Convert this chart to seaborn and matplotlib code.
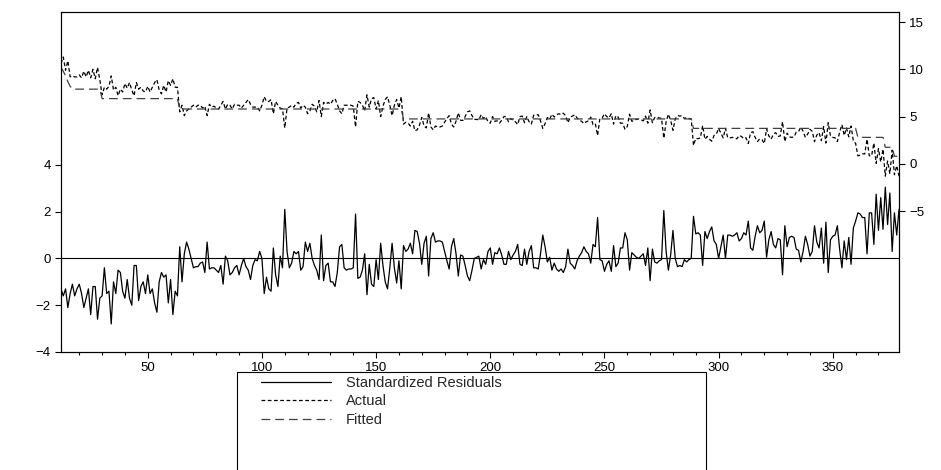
import numpy as np
import pandas as pd
import matplotlib
matplotlib.use("Agg")
import matplotlib.pyplot as plt
from matplotlib.patches import Rectangle
from matplotlib.ticker import MultipleLocator
import seaborn as sns

# Observations 12..379
obs = list(range(12, 380))

# Standardized residuals (left axis)
resid = [
    -1.3, -1.6,
    -1.3, -2.1, -1.5, -1.1, -1.6, -1.3, -1.1, -1.5, -2.1, -1.7,
    -1.3, -2.4, -1.2, -1.2, -2.6, -1.7, -1.6, -0.4, -1.5, -1.4,
    -2.8, -1.0, -1.5, -0.5, -0.6, -1.4, -1.7, -0.9, -1.7, -2.0,
    -0.3, -0.3, -1.8, -1.2, -1.0, -1.5, -0.7, -1.5, -1.3, -1.9,
    -2.3, -1.0, -0.6, -0.8, -0.7, -1.9, -0.9, -2.4, -1.4, -1.6,
    0.5, -1.0, 0.2, 0.7, 0.4, 0.0, -0.4, -0.35, -0.35, -0.2,
    -0.15, -0.6, 0.7, -0.45, -0.4, -0.4, -0.5, -0.6, -0.3, -1.1,
    0.1, -0.1, -0.7, -0.6, -0.4, -0.3, -0.7, -0.3, 0.0, -0.35,
    -0.5, -0.9, -0.3, -0.05, -0.1, 0.3, 0.0, -1.5, -0.8, -1.3,
    -1.4, 0.45, -0.7, -1.2, 0.1, -0.4, 2.1, 0.3, -0.4, -0.2,
    0.3, 0.2, 0.3, -0.5, -0.35, 0.7, 0.3, 0.65, 0.0, -0.3,
    -0.5, -0.9, 1.0, -0.95, -0.3, -0.2, -1.0, -1.0, -1.2, -0.6,
    0.5, 0.6, -0.4, -0.5, -0.45, -0.45, -0.4, 1.9, -0.85, -0.8,
    -0.5, 0.2, -1.55, -0.25, -1.1, -1.2, -0.05, -0.9, 0.65, -0.3,
    -1.0, -1.3, -0.4, 0.65, -0.4, -1.05, -0.1, -1.3, 0.55, 0.3,
    0.4, 0.65, 0.2, 1.2, 1.15, 0.65, -0.25, 0.65, 0.95, -0.75,
    0.85, 1.1, 0.7, 0.75, 0.75, 0.7, 0.3, -0.1, -0.45, 0.5,
    0.85, 0.2, -0.75, 0.15, 0.1, -0.3, -0.75, -0.95, -0.5, 0.0,
    0.05, 0.1, -0.45, -0.05, -0.25, 0.3, 0.45, -0.25, 0.25, 0.2,
    0.45, 0.15, -0.25, -0.25, 0.3, -0.05, 0.15, 0.3, 0.6, -0.25,
    -0.3, 0.4, -0.25, 0.3, 0.55, -0.4, -0.4, -0.45, 0.2, 1.0,
    0.5, -0.15, 0.05, -0.5, -0.2, -0.45, -0.55, -0.45, -0.6, -0.35,
    0.4, -0.2, -0.3, -0.45, -0.1, 0.1, 0.25, 0.5, 0.3, 0.2,
    -0.2, 0.6, 0.5, 1.75, -0.05, -0.1, -0.55, -0.25, -0.1, -0.55,
    0.55, -0.35, -0.2, 0.45, 0.45, 1.1, 0.8, -0.5, 0.25, 0.15,
    0.05, 0.0, 0.1, 0.2, -0.3, 0.45, -0.95, 0.4, -0.15, -0.2,
    -0.1, -0.05, 2.05, 0.3, -0.5, 0.15, 1.2, 0.0, -0.35, -0.3,
    -0.35, -0.05, -0.15, -0.05, 0.0, 1.8, 1.05, 1.1, 1.0, -0.3,
    1.15, 0.85, 1.15, 1.35, 0.75, 0.6, 0.0, 0.5, 1.0, 0.0,
    1.0, 1.0, 0.95, 1.0, 1.1, 0.75, 0.85, 1.1, 1.0, 1.6,
    0.45, 0.35, 0.95, 1.4, 1.1, 1.2, 1.6, 0.05, 0.8, 1.15,
    0.6, 0.45, 0.85, 0.8, -0.7, 1.4, 0.5, 0.9, 0.95, 0.9,
    0.4, 0.35, -0.15, 0.3, 0.95, 0.6, 0.1, 0.3, 1.4, 0.7,
    0.45, 1.3, -0.2, 1.55, -0.6, 0.8, 0.95, 1.0, 1.4, 0.4,
    -0.4, 0.75, -0.05, 0.9, -0.25, 1.3, 1.6, 1.95, 1.9, 1.75,
    1.75, 0.2, 1.95, 1.95, 0.6, 2.75, 1.2, 2.6, 1.25, 3.05,
    1.45, 2.8, 0.3, 1.95, 1.0, 2.1,
]

# Actual series (right axis)
actual = [
    10.6, 11.3,
    9.9, 10.9, 9.2, 9.3, 9.2, 9.2, 9.4, 9.1, 9.8, 9.2,
    9.9, 9.1, 10.0, 9.0, 10.2, 8.9, 7.3, 8.1, 7.9, 8.2,
    9.3, 7.8, 8.1, 7.2, 7.9, 7.6, 8.5, 8.0, 8.6, 7.8,
    7.2, 8.6, 7.9, 8.1, 7.7, 7.6, 8.2, 7.6, 8.1, 8.6,
    8.9, 7.8, 7.4, 8.3, 7.6, 8.8, 8.3, 9.0, 8.1, 8.1,
    5.5, 6.2, 5.1, 5.6, 5.8, 6.0, 6.2, 6.0, 6.2, 6.2,
    5.9, 6.1, 5.1, 6.3, 6.0, 6.1, 5.9, 5.8, 6.2, 6.6,
    5.8, 6.3, 6.2, 5.8, 6.3, 6.2, 6.2, 5.9, 6.2, 6.5,
    6.8, 6.3, 6.0, 6.0, 6.0, 5.6, 6.2, 7.1, 6.6, 6.6,
    6.8, 5.3, 6.6, 6.2, 5.9, 5.8, 3.8, 5.9, 6.0, 6.2,
    6.0, 6.4, 6.5, 5.9, 6.2, 6.0, 5.3, 5.6, 6.3, 6.1,
    5.5, 6.7, 5.0, 6.5, 6.3, 6.5, 6.3, 6.7, 6.9, 6.3,
    5.6, 5.3, 6.2, 6.2, 6.2, 6.2, 6.1, 3.9, 6.6, 6.5,
    6.2, 5.6, 7.3, 6.0, 6.9, 7.0, 5.8, 6.7, 5.0, 6.1,
    6.8, 7.1, 6.2, 5.1, 6.2, 6.8, 5.9, 7.1, 4.2, 4.4,
    4.3, 4.0, 4.5, 3.5, 3.6, 4.1, 4.9, 4.0, 3.8, 5.4,
    3.9, 3.6, 4.0, 3.9, 3.9, 4.0, 4.4, 4.8, 5.1, 4.2,
    3.9, 4.5, 5.4, 4.6, 4.6, 5.0, 5.5, 5.6, 5.1, 4.7,
    4.7, 4.65, 5.2, 4.8, 5.0, 4.45, 4.3, 5.0, 4.5, 4.55,
    4.3, 4.6, 5.0, 5.0, 4.45, 4.8, 4.6, 4.45, 4.15, 5.0,
    5.05, 4.35, 5.0, 4.45, 4.2, 5.15, 5.15, 5.2, 4.55, 3.75,
    4.25, 4.9, 4.7, 5.25, 4.95, 5.2, 5.3, 5.2, 5.35, 5.1,
    4.35, 4.95, 5.05, 5.2, 4.85, 4.65, 4.5, 4.25, 4.45, 4.55,
    4.95, 4.15, 4.25, 3.0, 4.8, 4.85, 5.3, 5.0, 4.85, 5.3,
    4.2, 5.1, 4.95, 4.3, 4.3, 3.65, 3.95, 5.25, 4.5, 4.6,
    4.7, 4.75, 4.65, 4.55, 5.05, 4.3, 5.7, 4.35, 4.9, 4.95,
    4.85, 4.8, 2.7, 4.45, 5.25, 4.6, 3.55, 4.75, 5.1, 5.05,
    5.1, 4.8, 4.9, 4.8, 4.75, 1.95, 2.7, 2.65, 2.75, 4.05,
    2.6, 2.9, 2.6, 2.4, 3.0, 3.15, 3.75, 3.25, 2.75, 3.75,
    2.75, 2.75, 2.8, 2.75, 2.65, 3.0, 2.9, 2.65, 2.75, 2.15,
    3.3, 3.4, 2.8, 2.35, 2.65, 2.55, 2.15, 3.7, 2.95, 2.6,
    3.15, 3.3, 2.9, 2.95, 4.45, 2.35, 3.25, 2.85, 2.8, 2.85,
    3.35, 3.4, 3.9, 3.45, 2.8, 3.15, 3.65, 3.45, 2.35, 3.05,
    3.3, 2.45, 3.95, 2.2, 4.35, 2.95, 2.8, 2.75, 2.35, 3.35,
    4.15, 3.0, 3.8, 2.85, 4.0, 2.45, 2.15, 0.85, 0.9, 1.05,
    1.05, 2.6, 0.85, 0.85, 2.2, 0.05, 1.6, 0.2, 1.55, -1.3,
    0.3, -1.05, 1.45, -1.15, -0.2, -1.3,
]

# Fitted series: step levels and the first observation of each step
fitted_start = [12, 13, 14, 15, 16, 17, 30, 64, 162, 289, 361, 373, 377]
fitted_level = [10.2, 9.8, 9.3, 8.7, 8.2, 7.9, 6.9, 5.8, 4.75, 3.75, 2.8, 1.75, 0.8]

lengths = np.diff(fitted_start + [obs[-1] + 1])
fitted = np.repeat(fitted_level, lengths)

df = pd.DataFrame({"obs": obs, "resid": resid, "actual": actual, "fitted": fitted})

sns.set_style("ticks")
plt.rcParams['font.family'] = ['Liberation Sans', 'DejaVu Sans']

W, H = 941, 470
fig = plt.figure(figsize=(W / 100, H / 100), dpi=100)
ax = fig.add_axes([61 / W, 1 - 352 / H, 838 / W, 340 / H])
ax2 = ax.twinx()

# residuals on the left axis
sns.lineplot(data=df, x="obs", y="resid", ax=ax, color="black", linewidth=0.9,
             legend=False)
ax.axhline(0, color="black", linewidth=0.8)

# actual and fitted on the right axis
sns.lineplot(data=df, x="obs", y="actual", ax=ax2, color="black", linewidth=0.9,
             linestyle=(0, (3, 2)), legend=False)
sns.lineplot(data=df, x="obs", y="fitted", ax=ax2, color="#404040", linewidth=0.9,
             linestyle=(0, (7, 4)), legend=False)

ax.set_xlim(obs[0], obs[-1])
ax.set_ylim(-4, 10.54)
ax2.set_ylim(-19.9, 16.06)
ax.set_yticks([-4, -2, 0, 2, 4])
ax2.set_yticks([-5, 0, 5, 10, 15])
ax.set_xticks([50, 100, 150, 200, 250, 300, 350])
ax.xaxis.set_minor_locator(MultipleLocator(10))

for a in (ax, ax2):
    a.set_xlabel("")
    a.set_ylabel("")
    a.grid(False)
    for s in a.spines.values():
        s.set_color("black")
        s.set_linewidth(0.8)
    a.tick_params(which="both", direction="out", colors="black", labelsize=9.5,
                  width=0.8)
    a.tick_params(which="major", length=4)
    a.tick_params(which="minor", length=2.5)

# legend box
fig.patches.append(Rectangle((237 / W, -0.05), (706 - 237) / W, 1 - 372 / H + 0.05,
                             transform=fig.transFigure, fill=False,
                             edgecolor="black", linewidth=0.8))
handles = [
    plt.Line2D([], [], color="black", linewidth=0.9),
    plt.Line2D([], [], color="black", linewidth=0.9, linestyle=(0, (3, 2))),
    plt.Line2D([], [], color="#404040", linewidth=0.9, linestyle=(0, (7, 4))),
]
fig.legend(handles, ["Standardized Residuals", "Actual", "Fitted"],
           loc="upper left", bbox_to_anchor=(258 / W, 1 - 373 / H),
           frameon=False, fontsize=10.5, handlelength=4.8, handletextpad=1.0,
           labelspacing=0.3, borderaxespad=0, borderpad=0.2)

fig.savefig("out.png", dpi=100)
